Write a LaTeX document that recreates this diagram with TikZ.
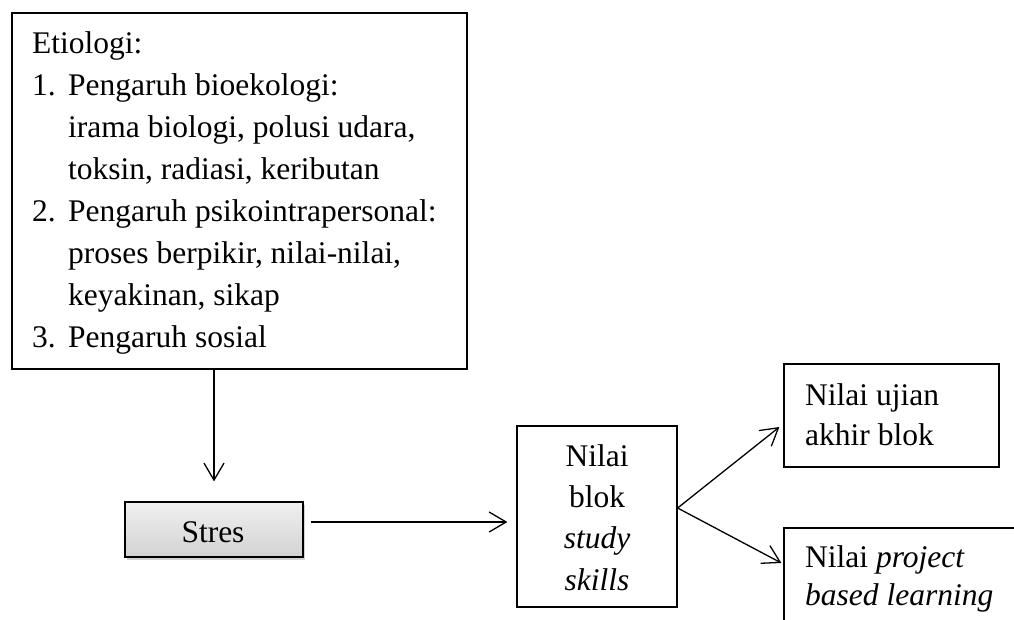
\documentclass[tikz,border=0pt]{standalone}
\usepackage{fontspec}
\setmainfont{Liberation Serif}
\usetikzlibrary{arrows.meta,shadows}
\begin{document}
\begin{tikzpicture}[x=1pt,y=-1pt,
  box/.style={draw, line width=1.2pt, inner sep=0pt, fill=white},
  txt/.style={anchor=base west, inner sep=0pt, font=\fontsize{31.5}{36}\selectfont},
  ctxt/.style={anchor=base, inner sep=0pt, font=\fontsize{31.5}{36}\selectfont},
  arr/.style={line width=1.3pt, -{Straight Barb[length=17pt,width=20pt,line width=1.3pt]}}]
\useasboundingbox (0,0) rectangle (1014,619);

% boxes
\node[box, minimum width=455pt, minimum height=356pt] (etio) at (239.5,191) {};
\node[box, minimum width=178pt, minimum height=55pt, top color=gray!12, bottom color=gray!35,
      drop shadow={shadow xshift=2pt, shadow yshift=-2.5pt, opacity=0.35}] (stres) at (214,529.5) {};
\node[box, minimum width=160pt, minimum height=181pt] (blok) at (597,516.5) {};
\node[box, minimum width=215pt, minimum height=103pt] (ujian) at (891.5,415.5) {};
\node[box, minimum width=240pt, minimum height=120pt] (pbl) at (904,588) {};

% Etiologi text
\node[txt] (e0) at (32,53) {Etiologi:};
\node[txt] (e1n) at (32,95) {1.};
\node[txt] (e1) at (68,95) {Pengaruh bioekologi:};
\node[txt] (e2) at (68,137) {irama biologi, polusi udara,};
\node[txt] (e3) at (68,179) {toksin, radiasi, keributan};
\node[txt] (e4n) at (32,221) {2.};
\node[txt] (e4) at (68,221) {Pengaruh psikointrapersonal:};
\node[txt] (e5) at (68,263) {proses berpikir, nilai-nilai,};
\node[txt] (e6) at (68,305) {keyakinan, sikap};
\node[txt] (e7n) at (32,347) {3.};
\node[txt] (e7) at (68,347) {Pengaruh sosial};

% Stres
\node[ctxt] (st) at (213,542) {Stres};

% Nilai blok
\node[ctxt] (b1) at (597,466) {Nilai};
\node[ctxt] (b2) at (597,507) {blok};
\node[ctxt] (b3) at (597,548) {\itshape study};
\node[ctxt] (b4) at (597,590) {\itshape skills};

% Nilai ujian
\node[txt] (u1) at (805,405) {Nilai ujian};
\node[txt] (u2) at (805,445) {akhir blok};

% PBL
\node[txt] (p1) at (805,567) {Nilai \textit{project}};
\node[txt] (p2) at (805,605) {\textit{based learning}};

% connectors
\draw[arr, shorten >=20pt] (etio.south -| stres.north) -- (stres.north);
\draw[arr, shorten <=7pt, shorten >=9pt] ([yshift=7.5pt]stres.east) -- ([yshift=7.5pt]stres.east -| blok.west);
\coordinate (fork) at ([yshift=8.5pt]blok.east);
\draw[arr] (fork) -- ([xshift=-4pt,yshift=-11.5pt]ujian.west);
\draw[arr] (fork) -- ([xshift=-2pt,yshift=25pt]pbl.west);
\end{tikzpicture}
\end{document}
